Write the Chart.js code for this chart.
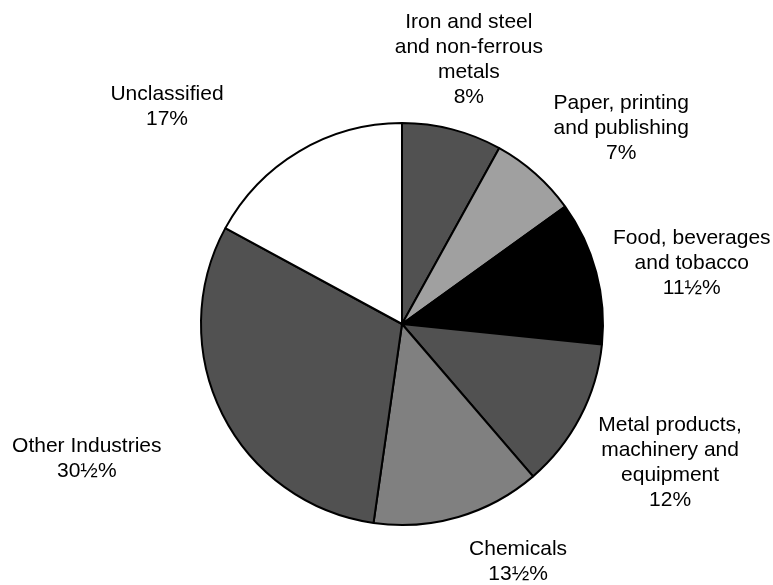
<!DOCTYPE html>
<html>
<head>
<meta charset="utf-8">
<script src="https://cdn.jsdelivr.net/npm/chart.js@4"></script>
<style>
  html, body { margin: 0; padding: 0; background: #ffffff; }
  #wrap { width: 773px; height: 585px; }
</style>
</head>
<body>
<div id="wrap"><canvas id="c" width="773" height="585"></canvas></div>
<script>
// ---- data ----
const categories = [
  ["Iron and steel", "and non-ferrous", "metals"],
  ["Paper, printing", "and publishing"],
  ["Food, beverages", "and tobacco"],
  ["Metal products,", "machinery and", "equipment"],
  ["Chemicals"],
  ["Other Industries"],
  ["Unclassified"]
];
const shares = [8, 7, 11.5, 12, 13.5, 30.5, 17];
const shareLabels = ["8%", "7%", "11½%", "12%", "13½%", "30½%", "17%"];

// ---- styling ----
const sliceColors = ["#515151", "#a0a0a0", "#000000", "#515151", "#808080", "#515151", "#ffffff"];
// label placement relative to each slice: radial distance (x radius) and angular shift (deg)
const labelDist = [1.358, 1.463, 1.473, 1.502, 1.318, 1.706, 1.592];
const labelShift = [-0.3, 6.6, 3.1, -0.2, -9.7, 3.5, -16.5];

const labelPlugin = {
  id: 'outsideLabels',
  afterDraw(chart) {
    const ctx = chart.ctx;
    const meta = chart.getDatasetMeta(0);
    ctx.save();
    ctx.font = '21px "Liberation Sans", Arial, sans-serif';
    ctx.fillStyle = '#000000';
    ctx.textAlign = 'center';
    ctx.textBaseline = 'middle';
    const lh = 25;
    meta.data.forEach((arc, i) => {
      const p = arc.getProps(['x', 'y', 'startAngle', 'endAngle', 'outerRadius'], true);
      const mid = (p.startAngle + p.endAngle) / 2 + labelShift[i] * Math.PI / 180;
      const d = p.outerRadius * labelDist[i];
      const cx = p.x + Math.cos(mid) * d;
      const cy = p.y + Math.sin(mid) * d;
      const lines = categories[i].concat([shareLabels[i]]);
      const top = cy - (lines.length - 1) * lh / 2;
      lines.forEach((t, k) => ctx.fillText(t, cx, top + k * lh));
    });
    ctx.restore();
  }
};

new Chart(document.getElementById('c'), {
  type: 'pie',
  data: {
    labels: categories.map(c => c.join(' ')),
    datasets: [{
      data: shares,
      backgroundColor: sliceColors,
      borderColor: '#000000',
      borderWidth: 2,
      radius: 201
    }]
  },
  options: {
    responsive: false,
    devicePixelRatio: 1,
    animation: false,
    layout: { padding: { left: 200, right: 169, top: 120, bottom: 57 } },
    plugins: {
      legend: { display: false },
      tooltip: { enabled: false }
    }
  },
  plugins: [labelPlugin]
});
</script>
</body>
</html>
